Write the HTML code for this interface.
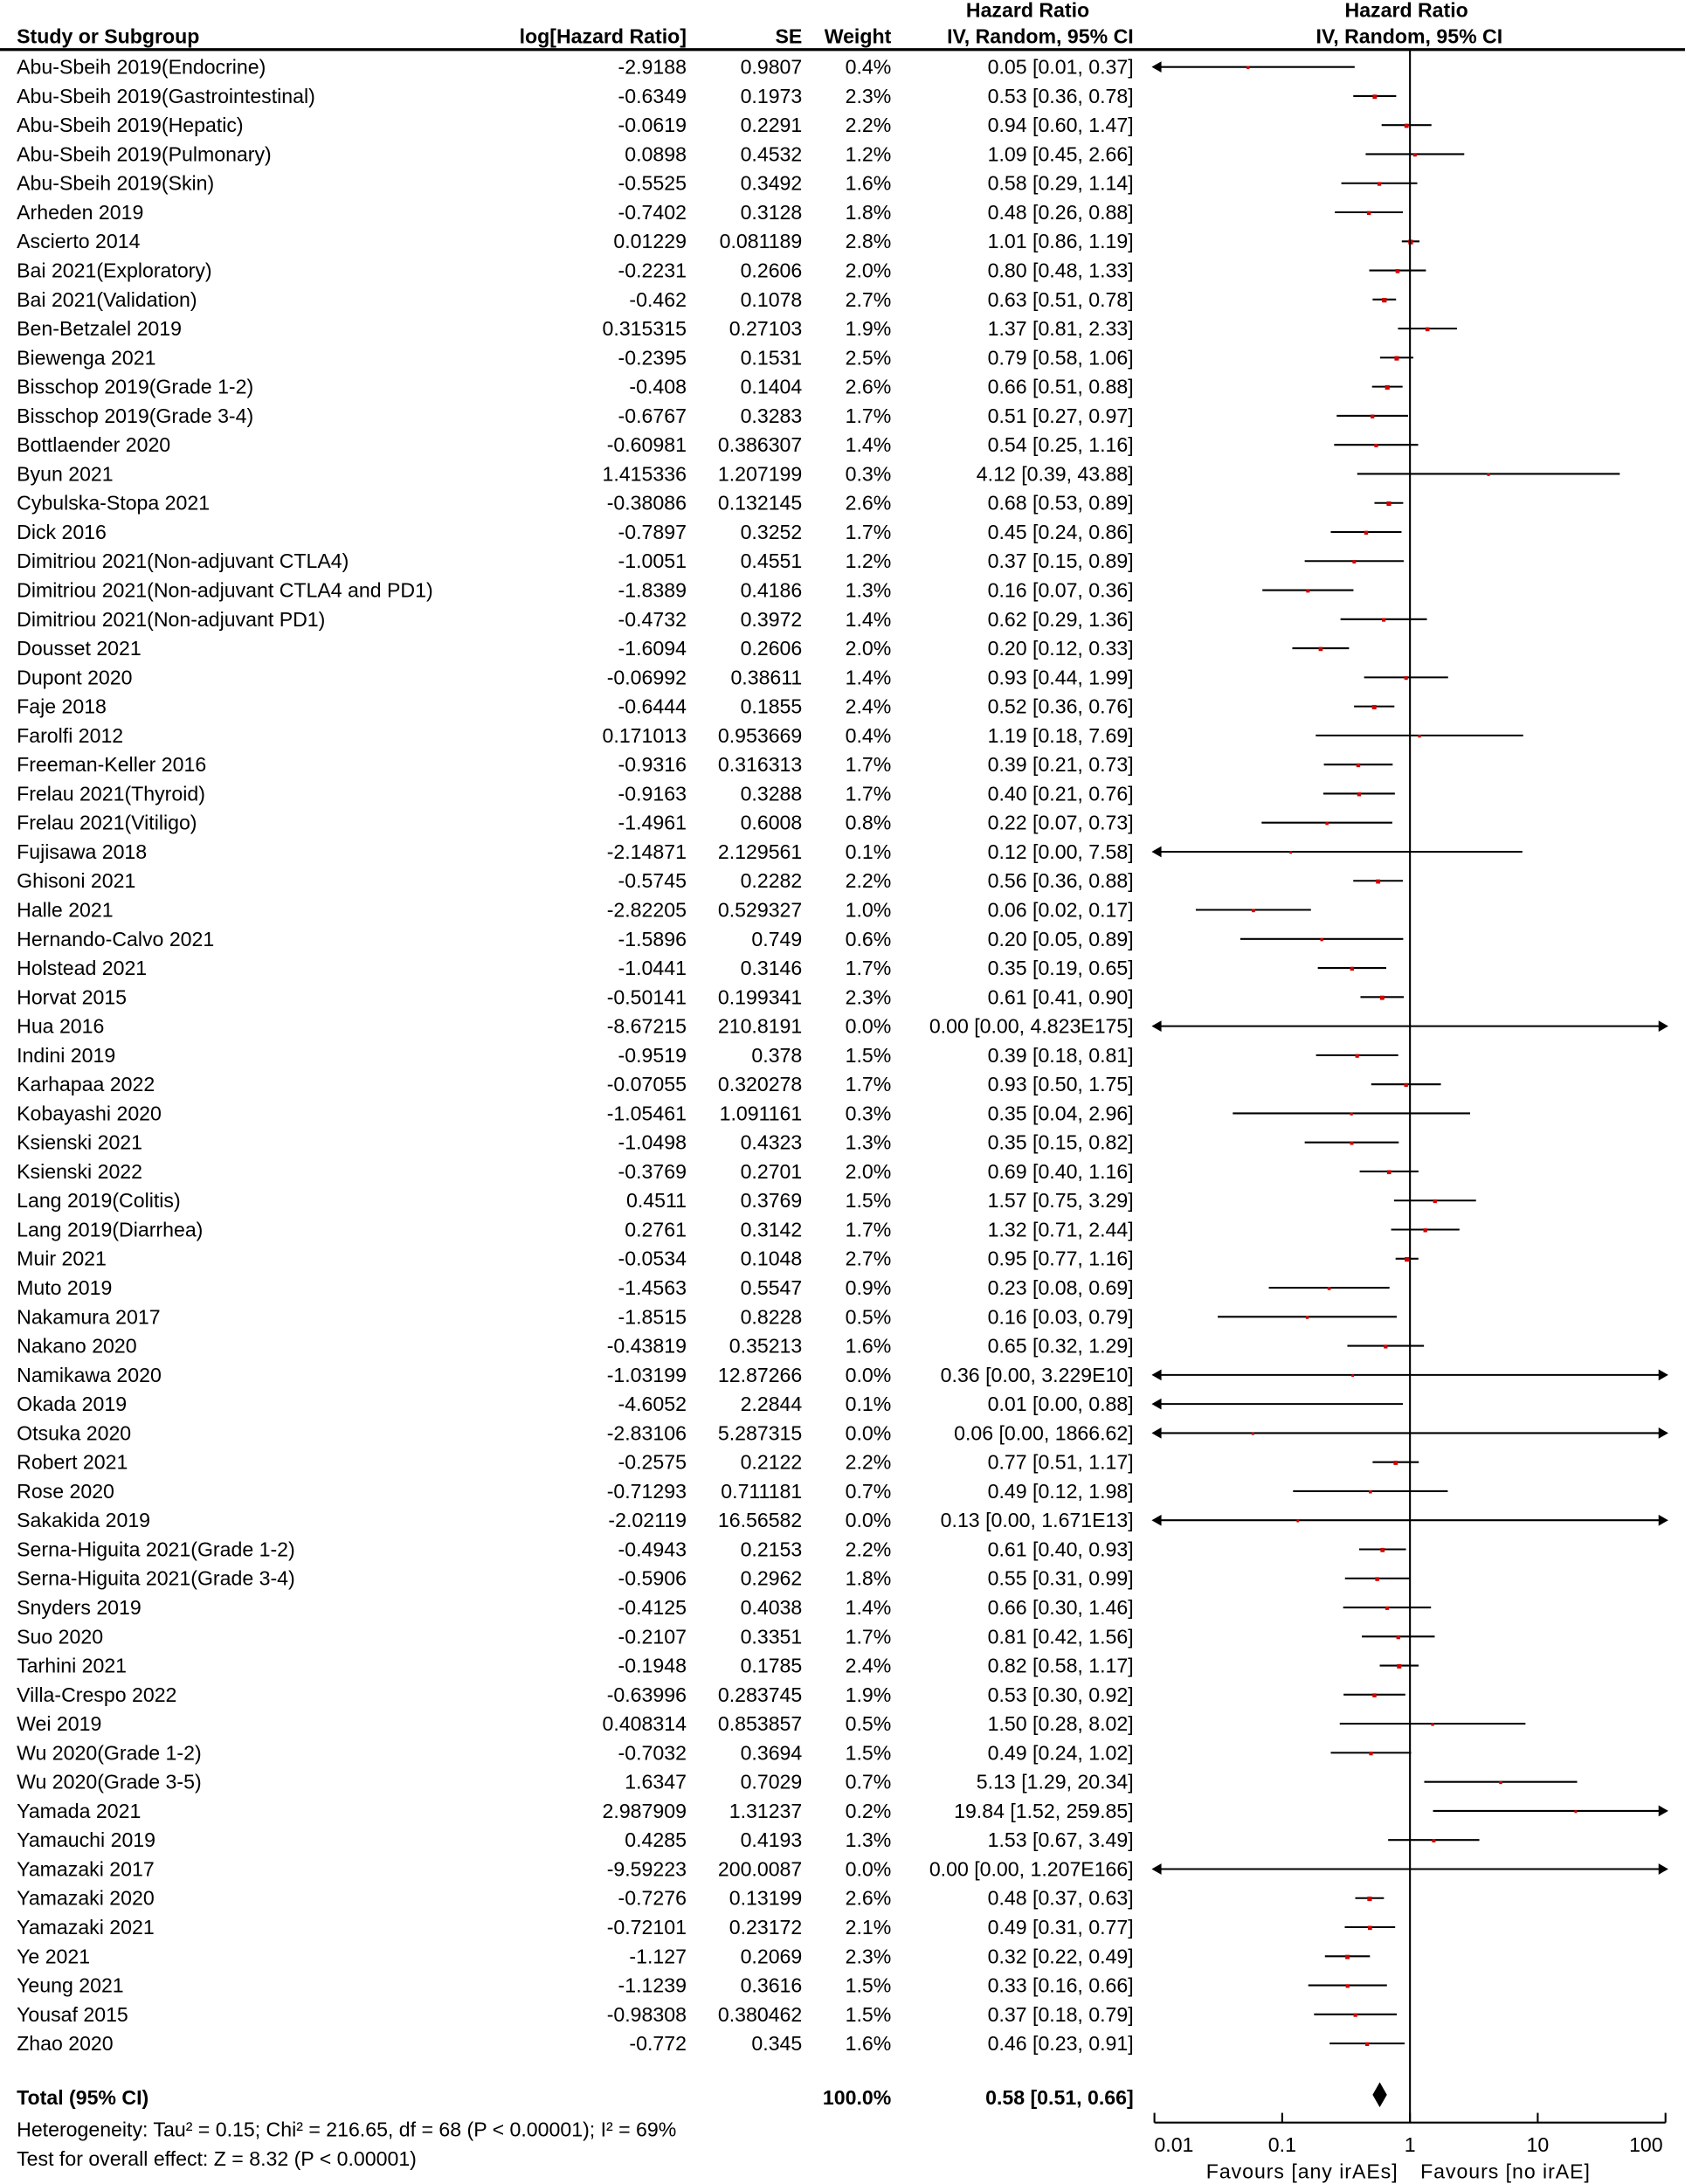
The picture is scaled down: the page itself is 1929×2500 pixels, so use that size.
<!DOCTYPE html>
<html><head><meta charset="utf-8"><title>Forest plot</title>
<style>
html,body{margin:0;padding:0;background:#fff;}
svg{display:block;}
text{font-family:"Liberation Sans",Arial,sans-serif;font-size:14.5px;fill:#000;}
.b{font-weight:bold;}
</style></head>
<body>
<svg id="chart" width="1929" height="2500" viewBox="0 0 1210 1568" xmlns="http://www.w3.org/2000/svg">
<g id="hdr">
<text x="738" y="12" text-anchor="middle" class="b">Hazard Ratio</text>
<text x="12" y="31" class="b">Study or Subgroup</text>
<text x="493" y="31" text-anchor="end" class="b">log[Hazard Ratio]</text>
<text x="576" y="31" text-anchor="end" class="b">SE</text>
<text x="640" y="31" text-anchor="end" class="b">Weight</text>
<text x="814" y="31" text-anchor="end" class="b">IV, Random, 95% CI</text>
<text x="1010" y="12" text-anchor="middle" class="b">Hazard Ratio</text>
<text x="1012" y="31" text-anchor="middle" class="b">IV, Random, 95% CI</text>
<line x1="0" y1="35.5" x2="1210" y2="35.5" stroke="#000" stroke-width="2"/>
</g>
<g id="rows"></g>
<g id="plot"></g>
<g id="foot">
<text x="12" y="1511" class="b">Total (95% CI)</text>
<text x="640" y="1511" text-anchor="end" class="b">100.0%</text>
<text x="814" y="1511" text-anchor="end" class="b">0.58 [0.51, 0.66]</text>
<text x="12" y="1534">Heterogeneity: Tau² = 0.15; Chi² = 216.65, df = 68 (P &lt; 0.00001); I² = 69%</text>
<text x="12" y="1555">Test for overall effect: Z = 8.32 (P &lt; 0.00001)</text>
<text x="1004" y="1564" text-anchor="end" letter-spacing="0.6">Favours [any irAEs]</text>
<text x="1020" y="1564" letter-spacing="0.6">Favours [no irAE]</text>
</g>
</svg>
<script>
const names=["Abu-Sbeih 2019(Endocrine)","Abu-Sbeih 2019(Gastrointestinal)","Abu-Sbeih 2019(Hepatic)","Abu-Sbeih 2019(Pulmonary)","Abu-Sbeih 2019(Skin)","Arheden 2019","Ascierto 2014","Bai 2021(Exploratory)","Bai 2021(Validation)","Ben-Betzalel 2019","Biewenga 2021","Bisschop 2019(Grade 1-2)","Bisschop 2019(Grade 3-4)","Bottlaender 2020","Byun 2021","Cybulska-Stopa 2021","Dick 2016","Dimitriou 2021(Non-adjuvant CTLA4)","Dimitriou 2021(Non-adjuvant CTLA4 and PD1)","Dimitriou 2021(Non-adjuvant PD1)","Dousset 2021","Dupont 2020","Faje 2018","Farolfi 2012","Freeman-Keller 2016","Frelau 2021(Thyroid)","Frelau 2021(Vitiligo)","Fujisawa 2018","Ghisoni 2021","Halle 2021","Hernando-Calvo 2021","Holstead 2021","Horvat 2015","Hua 2016","Indini 2019","Karhapaa 2022","Kobayashi 2020","Ksienski 2021","Ksienski 2022","Lang 2019(Colitis)","Lang 2019(Diarrhea)","Muir 2021","Muto 2019","Nakamura 2017","Nakano 2020","Namikawa 2020","Okada 2019","Otsuka 2020","Robert 2021","Rose 2020","Sakakida 2019","Serna-Higuita 2021(Grade 1-2)","Serna-Higuita 2021(Grade 3-4)","Snyders 2019","Suo 2020","Tarhini 2021","Villa-Crespo 2022","Wei 2019","Wu 2020(Grade 1-2)","Wu 2020(Grade 3-5)","Yamada 2021","Yamauchi 2019","Yamazaki 2017","Yamazaki 2020","Yamazaki 2021","Ye 2021","Yeung 2021","Yousaf 2015","Zhao 2020"];
const logHR=["-2.9188","-0.6349","-0.0619","0.0898","-0.5525","-0.7402","0.01229","-0.2231","-0.462","0.315315","-0.2395","-0.408","-0.6767","-0.60981","1.415336","-0.38086","-0.7897","-1.0051","-1.8389","-0.4732","-1.6094","-0.06992","-0.6444","0.171013","-0.9316","-0.9163","-1.4961","-2.14871","-0.5745","-2.82205","-1.5896","-1.0441","-0.50141","-8.67215","-0.9519","-0.07055","-1.05461","-1.0498","-0.3769","0.4511","0.2761","-0.0534","-1.4563","-1.8515","-0.43819","-1.03199","-4.6052","-2.83106","-0.2575","-0.71293","-2.02119","-0.4943","-0.5906","-0.4125","-0.2107","-0.1948","-0.63996","0.408314","-0.7032","1.6347","2.987909","0.4285","-9.59223","-0.7276","-0.72101","-1.127","-1.1239","-0.98308","-0.772"];
const seVals=["0.9807","0.1973","0.2291","0.4532","0.3492","0.3128","0.081189","0.2606","0.1078","0.27103","0.1531","0.1404","0.3283","0.386307","1.207199","0.132145","0.3252","0.4551","0.4186","0.3972","0.2606","0.38611","0.1855","0.953669","0.316313","0.3288","0.6008","2.129561","0.2282","0.529327","0.749","0.3146","0.199341","210.8191","0.378","0.320278","1.091161","0.4323","0.2701","0.3769","0.3142","0.1048","0.5547","0.8228","0.35213","12.87266","2.2844","5.287315","0.2122","0.711181","16.56582","0.2153","0.2962","0.4038","0.3351","0.1785","0.283745","0.853857","0.3694","0.7029","1.31237","0.4193","200.0087","0.13199","0.23172","0.2069","0.3616","0.380462","0.345"];
const weights=[0.4,2.3,2.2,1.2,1.6,1.8,2.8,2.0,2.7,1.9,2.5,2.6,1.7,1.4,0.3,2.6,1.7,1.2,1.3,1.4,2.0,1.4,2.4,0.4,1.7,1.7,0.8,0.1,2.2,1.0,0.6,1.7,2.3,0.0,1.5,1.7,0.3,1.3,2.0,1.5,1.7,2.7,0.9,0.5,1.6,0.0,0.1,0.0,2.2,0.7,0.0,2.2,1.8,1.4,1.7,2.4,1.9,0.5,1.5,0.7,0.2,1.3,0.0,2.6,2.1,2.3,1.5,1.5,1.6];
const ciText=["0.05 [0.01, 0.37]","0.53 [0.36, 0.78]","0.94 [0.60, 1.47]","1.09 [0.45, 2.66]","0.58 [0.29, 1.14]","0.48 [0.26, 0.88]","1.01 [0.86, 1.19]","0.80 [0.48, 1.33]","0.63 [0.51, 0.78]","1.37 [0.81, 2.33]","0.79 [0.58, 1.06]","0.66 [0.51, 0.88]","0.51 [0.27, 0.97]","0.54 [0.25, 1.16]","4.12 [0.39, 43.88]","0.68 [0.53, 0.89]","0.45 [0.24, 0.86]","0.37 [0.15, 0.89]","0.16 [0.07, 0.36]","0.62 [0.29, 1.36]","0.20 [0.12, 0.33]","0.93 [0.44, 1.99]","0.52 [0.36, 0.76]","1.19 [0.18, 7.69]","0.39 [0.21, 0.73]","0.40 [0.21, 0.76]","0.22 [0.07, 0.73]","0.12 [0.00, 7.58]","0.56 [0.36, 0.88]","0.06 [0.02, 0.17]","0.20 [0.05, 0.89]","0.35 [0.19, 0.65]","0.61 [0.41, 0.90]","0.00 [0.00, 4.823E175]","0.39 [0.18, 0.81]","0.93 [0.50, 1.75]","0.35 [0.04, 2.96]","0.35 [0.15, 0.82]","0.69 [0.40, 1.16]","1.57 [0.75, 3.29]","1.32 [0.71, 2.44]","0.95 [0.77, 1.16]","0.23 [0.08, 0.69]","0.16 [0.03, 0.79]","0.65 [0.32, 1.29]","0.36 [0.00, 3.229E10]","0.01 [0.00, 0.88]","0.06 [0.00, 1866.62]","0.77 [0.51, 1.17]","0.49 [0.12, 1.98]","0.13 [0.00, 1.671E13]","0.61 [0.40, 0.93]","0.55 [0.31, 0.99]","0.66 [0.30, 1.46]","0.81 [0.42, 1.56]","0.82 [0.58, 1.17]","0.53 [0.30, 0.92]","1.50 [0.28, 8.02]","0.49 [0.24, 1.02]","5.13 [1.29, 20.34]","19.84 [1.52, 259.85]","1.53 [0.67, 3.49]","0.00 [0.00, 1.207E166]","0.48 [0.37, 0.63]","0.49 [0.31, 0.77]","0.32 [0.22, 0.49]","0.33 [0.16, 0.66]","0.37 [0.18, 0.79]","0.46 [0.23, 0.91]"];
const totalHR=[0.58,0.51,0.66];
const axisTicks=[0.01,0.1,1,10,100];
const axisTickLabels=["0.01","0.1","1","10","100"];

const NS="http://www.w3.org/2000/svg";
const X0=829,X1=1196,LMIN=-2,LMAX=2;
function xScale(ln){return X0+(ln/Math.LN10-LMIN)/(LMAX-LMIN)*(X1-X0);}
const ROW0=48,ROWH=20.87;
function yScale(i){return ROW0+i*ROWH;}
function mk(tag,attrs,parent){const e=document.createElementNS(NS,tag);for(const k in attrs)e.setAttribute(k,attrs[k]);parent.appendChild(e);return e;}
const rows=document.getElementById('rows'),plot=document.getElementById('plot');
names.forEach((n,i)=>{
  const y=yScale(i)+5;
  const g=mk('g',{},rows);
  
  
  const cols=[[12,n,'start','study-name'],[493,logHR[i],'end','log-hr-value'],[576,seVals[i],'end','se-value'],[640,weights[i].toFixed(1)+'%','end','weight-value'],[814,ciText[i],'end','ci-value']];
  cols.forEach(c=>{const t=mk('text',{x:c[0],y:y,'text-anchor':c[2]},g);t.textContent=c[1];
    
    });
  const lh=parseFloat(logHR[i]),se=parseFloat(seVals[i]);
  const lo=lh-1.96*se,hi=lh+1.96*se,yc=yScale(i);
  const xl=Math.max(X0,xScale(lo)),xh=Math.min(X1,xScale(hi));
  const ci=mk('line',{x1:xl,y1:yc,x2:xh,y2:yc,stroke:'#000','stroke-width':1.3},plot);
  
  
  if(xScale(lo)<X0){const a=mk('path',{d:`M${X0-2},${yc} L${X0+5},${yc-4} L${X0+5},${yc+4}Z`,fill:'#000'},plot);
    
    }
  if(xScale(hi)>X1){const a=mk('path',{d:`M${X1+2},${yc} L${X1-5},${yc-4} L${X1-5},${yc+4}Z`,fill:'#000'},plot);
    
    }
  const xp=xScale(lh);
  if(xp>=X0&&xp<=X1){const s=1.8+weights[i]*0.55;
    const r=mk('rect',{x:xp-s/2,y:yc-s/2+0.5,width:s,height:s,fill:'#d00000'},plot);
    
    }
});
const nl=mk('line',{x1:xScale(0),y1:35,x2:xScale(0),y2:1524,stroke:'#000','stroke-width':1.3},plot);


const yd=1504,xc=xScale(Math.log(totalHR[0])),xa=xScale(Math.log(totalHR[1])),xb=xScale(Math.log(totalHR[2]));
const dm=mk('path',{d:`M${xa},${yd} L${xc},${yd-9} L${xb},${yd} L${xc},${yd+9}Z`,fill:'#000'},plot);


const ax=mk('line',{x1:X0,y1:1524,x2:X1,y2:1524,stroke:'#000','stroke-width':1.3},plot);


axisTicks.forEach((v,k)=>{const x=xScale(Math.log(v));
  const t=mk('line',{x1:x,y1:1517,x2:x,y2:1524,stroke:'#000','stroke-width':1.3},plot);
  
  
  const l=mk('text',{x:x+(k===0?14:k===4?-14:0),y:1545,'text-anchor':'middle'},plot);l.textContent=axisTickLabels[k];
  
  });
</script>
</body></html>
